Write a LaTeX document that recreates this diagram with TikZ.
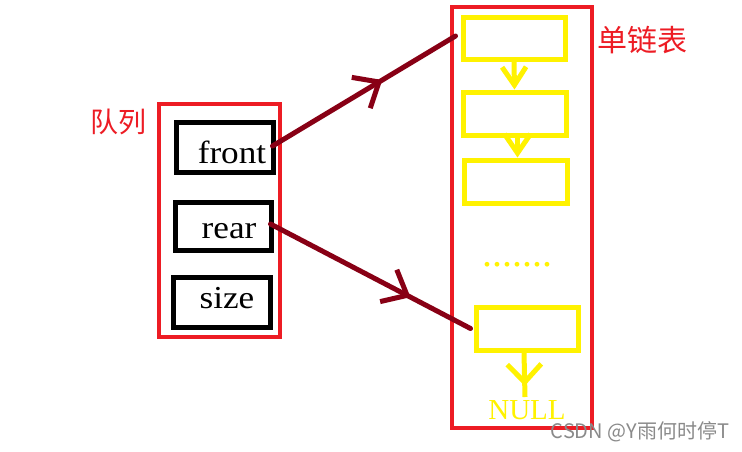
\documentclass[tikz,border=0pt]{standalone}
\usepackage{fontspec}
\setmainfont{Liberation Serif}
\newfontfamily\cjk{Noto Sans CJK SC}
\usetikzlibrary{arrows.meta,decorations.markings}
\definecolor{pred}{HTML}{ED1C24}
\definecolor{pyel}{HTML}{FFF200}
\definecolor{pdark}{HTML}{880015}
\definecolor{wmgray}{HTML}{8A8A8A}
\begin{document}
\begin{tikzpicture}[x=1pt,y=-1pt,
  redbox/.style={draw=pred,line width=4.5pt,inner sep=0pt},
  fieldbox/.style={draw=black,line width=5pt,inner sep=0pt},
  listbox/.style={draw=pyel,line width=5pt,inner sep=0pt},
  fieldtxt/.style={font=\fontsize{32}{36}\selectfont,anchor=base,inner sep=0pt,xscale=1.1},
  ptr/.style={draw=pdark,line width=5pt,line cap=round},
  ylink/.style={draw=pyel,line width=5pt},
]
\path[use as bounding box,fill=white] (0,0) rectangle (742,451);
% queue
\node[redbox,minimum width=121pt,minimum height=233pt] (queue) at (219.5,220.5) {};
\node[fieldbox,minimum width=97pt,minimum height=50pt] (front) at (224.5,147) {};
\node[fieldbox,minimum width=96pt,minimum height=48pt] (rear) at (223,226) {};
\node[fieldbox,minimum width=97pt,minimum height=50pt] (size) at (221.5,302) {};
\node[fieldtxt] (ft) at (232,163) {front};
\node[fieldtxt] (rt) at (229,238) {rear};
\node[fieldtxt] (st) at (227,308) {size};
\node[text=pred,font=\cjk\fontsize{28}{32}\selectfont,inner sep=0pt] (ql) at (118,122) {队列};
% list
\node[redbox,minimum width=140pt,minimum height=421pt] (list) at (522,217.5) {};
\node[listbox,minimum width=102pt,minimum height=42pt] (y1) at (514,38) {};
\node[listbox,minimum width=103pt,minimum height=43pt] (y2) at (514.5,113.5) {};
\node[listbox,minimum width=103pt,minimum height=43pt] (y3) at (515.5,181.5) {};
\node[listbox,minimum width=102pt,minimum height=43pt] (y4) at (527,328.5) {};
\node[text=pred,font=\cjk\fontsize{30}{34}\selectfont,inner sep=0pt] (ll) at (642,40) {单链表};
\node[text=pyel,font=\fontsize{40}{40}\selectfont,anchor=base,inner sep=0pt] (dots) at (517,266) {.......};
\node[text=pyel,font=\fontsize{29}{32}\selectfont,anchor=base,inner sep=0pt] (null) at (527,419) {NULL};
\coordinate (nend) at (525,397);
% yellow links
\draw[ylink,-{Straight Barb[length=18pt,width=24pt]}] (y1.south) -- (y2.north);
\draw[ylink,-{Straight Barb[length=19pt,width=26pt]}] ([xshift=3pt]y2.south) -- ([xshift=2pt]y3.north);
\draw[ylink,postaction={decorate},decoration={markings,mark=at position 0.75 with {\arrow{Straight Barb[length=18pt,width=34pt]}}}] ([xshift=-3pt]y4.south) -- (nend);
% pointers
\draw[ptr,postaction={decorate},decoration={markings,mark=at position 0.6 with {\arrow{Straight Barb[length=21pt,width=36pt]}}}]
  ([xshift=-3pt,yshift=1pt]front.east) -- ([xshift=-5pt,yshift=2pt]y1.west);
\draw[ptr,postaction={decorate},decoration={markings,mark=at position 0.7 with {\arrow{Straight Barb[length=21pt,width=36pt]}}}]
  ([xshift=-3pt,yshift=2pt]rear.east) -- ([xshift=-3pt]y4.west);
% watermark
\node[text=wmgray,font=\cjk\fontsize{20}{22}\selectfont,inner sep=0pt] (wm) at (640,432) {CSDN @Y雨何时停T};
\end{tikzpicture}
\end{document}
